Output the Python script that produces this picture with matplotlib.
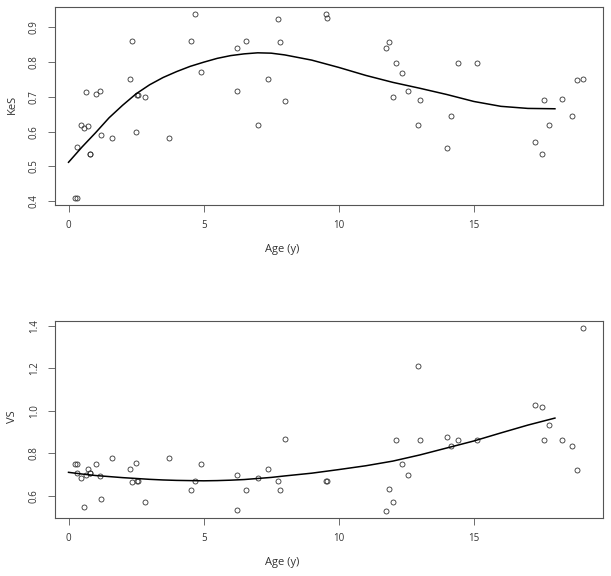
import numpy as np
import matplotlib
matplotlib.use("Agg")
import matplotlib.pyplot as plt

plt.rcParams.update(
    {
        "font.family": ["Open Sans", "DejaVu Sans"],
        "font.size": 7,
        "axes.linewidth": 0.8,
        "axes.edgecolor": "#555555",
        "xtick.color": "#555555",
        "ytick.color": "#555555",
        "xtick.labelcolor": "#333333",
        "ytick.labelcolor": "#333333",
    }
)

# subject ages (shared by both panels)
age = [0.25, 0.30, 0.31, 0.45, 0.57, 0.64, 0.72, 0.79, 0.81, 1.01,
       1.15, 1.20, 1.62, 2.26, 2.34, 2.50, 2.54, 2.57, 2.83, 3.73,
       4.52, 4.68, 4.91, 6.24, 6.25, 6.56, 7.03, 7.38, 7.77, 7.82,
       8.02, 9.51, 9.58, 11.75, 11.87, 12.02, 12.13, 12.34, 12.55, 12.95,
       13.00, 14.00, 14.15, 14.41, 15.12, 17.26, 17.51, 17.61, 17.77, 18.26,
       18.63, 18.83, 19.03]

kes = [0.410, 0.410, 0.555, 0.618, 0.612, 0.714, 0.615, 0.537, 0.537, 0.708,
       0.717, 0.591, 0.582, 0.753, 0.860, 0.599, 0.707, 0.707, 0.699, 0.582,
       0.860, 0.938, 0.771, 0.842, 0.717, 0.861, 0.618, 0.751, 0.925, 0.859,
       0.688, 0.938, 0.927, 0.842, 0.858, 0.699, 0.798, 0.769, 0.717, 0.618,
       0.690, 0.554, 0.645, 0.798, 0.798, 0.571, 0.537, 0.690, 0.618, 0.693,
       0.645, 0.750, 0.753]

vs = [0.751, 0.751, 0.707, 0.682, 0.545, 0.697, 0.724, 0.708, 0.708, 0.751,
      0.694, 0.584, 0.779, 0.724, 0.663, 0.753, 0.668, 0.668, 0.572, 0.779,
      0.627, 0.668, 0.751, 0.697, 0.531, 0.627, 0.682, 0.725, 0.671, 0.627,
      0.865, 0.668, 0.668, 0.529, 0.630, 0.572, 0.862, 0.751, 0.697, 1.210,
      0.862, 0.876, 0.835, 0.862, 0.862, 1.028, 1.016, 0.862, 0.933, 0.862,
      0.835, 0.720, 1.391]

# fitted curves
fit_age = [0, 0.5, 1, 1.5, 2, 2.5, 3, 3.5, 4, 4.5, 5, 5.5, 6, 6.5, 7, 7.5, 8,
           9, 10, 11, 12, 13, 14, 15, 16, 17, 18]
kes_fit = [0.512, 0.556, 0.597, 0.640, 0.676, 0.709, 0.735, 0.756, 0.773, 0.788,
           0.800, 0.811, 0.819, 0.824, 0.827, 0.826, 0.821, 0.806, 0.785, 0.762,
           0.742, 0.725, 0.707, 0.687, 0.673, 0.667, 0.666]
vs_fit = [0.710, 0.702, 0.695, 0.690, 0.685, 0.681, 0.677, 0.674, 0.672, 0.671,
          0.670, 0.671, 0.673, 0.676, 0.681, 0.686, 0.693, 0.706, 0.723, 0.741,
          0.763, 0.792, 0.825, 0.858, 0.896, 0.933, 0.966]


def r_lim(vals):
    lo, hi = min(vals), max(vals)
    pad = (hi - lo) * 0.04
    return lo - pad, hi + pad


def panel(ax, y, fit, yticks):
    ax.plot(age, y, "o", mfc="none", mec="#333333", ms=3.6, mew=0.6)
    ax.plot(fit_age, fit, color="black", lw=1.1)
    ax.set_xlim(r_lim(age))
    ax.set_ylim(r_lim(y))
    ax.set_xticks([0, 5, 10, 15])
    ax.set_yticks(yticks)
    ax.set_yticklabels([f"{t:.1f}" for t in yticks], rotation=90, va="center")
    ax.tick_params(length=5, width=0.6, pad=6)


fig = plt.figure(figsize=(6.11, 5.76), dpi=100)
ax1 = fig.add_axes([0.090, 0.644, 0.897, 0.344])
ax2 = fig.add_axes([0.090, 0.1007, 0.897, 0.3425])

panel(ax1, kes, kes_fit, [0.4, 0.5, 0.6, 0.7, 0.8, 0.9])
panel(ax2, vs, vs_fit, [0.6, 0.8, 1.0, 1.2, 1.4])

label_style = dict(ha="center", va="center", fontsize=8, color="#333333")
fig.text(12.5 / 611, 1 - 104 / 576, "KeS", rotation=90, **label_style)
fig.text(12.5 / 611, 1 - 417 / 576, "VS", rotation=90, **label_style)
fig.text(282 / 611, 1 - 249 / 576, "Age (y)", **label_style)
fig.text(282 / 611, 1 - 562 / 576, "Age (y)", **label_style)

fig.savefig("out.png", dpi=100, facecolor="white")
plt.close(fig)
